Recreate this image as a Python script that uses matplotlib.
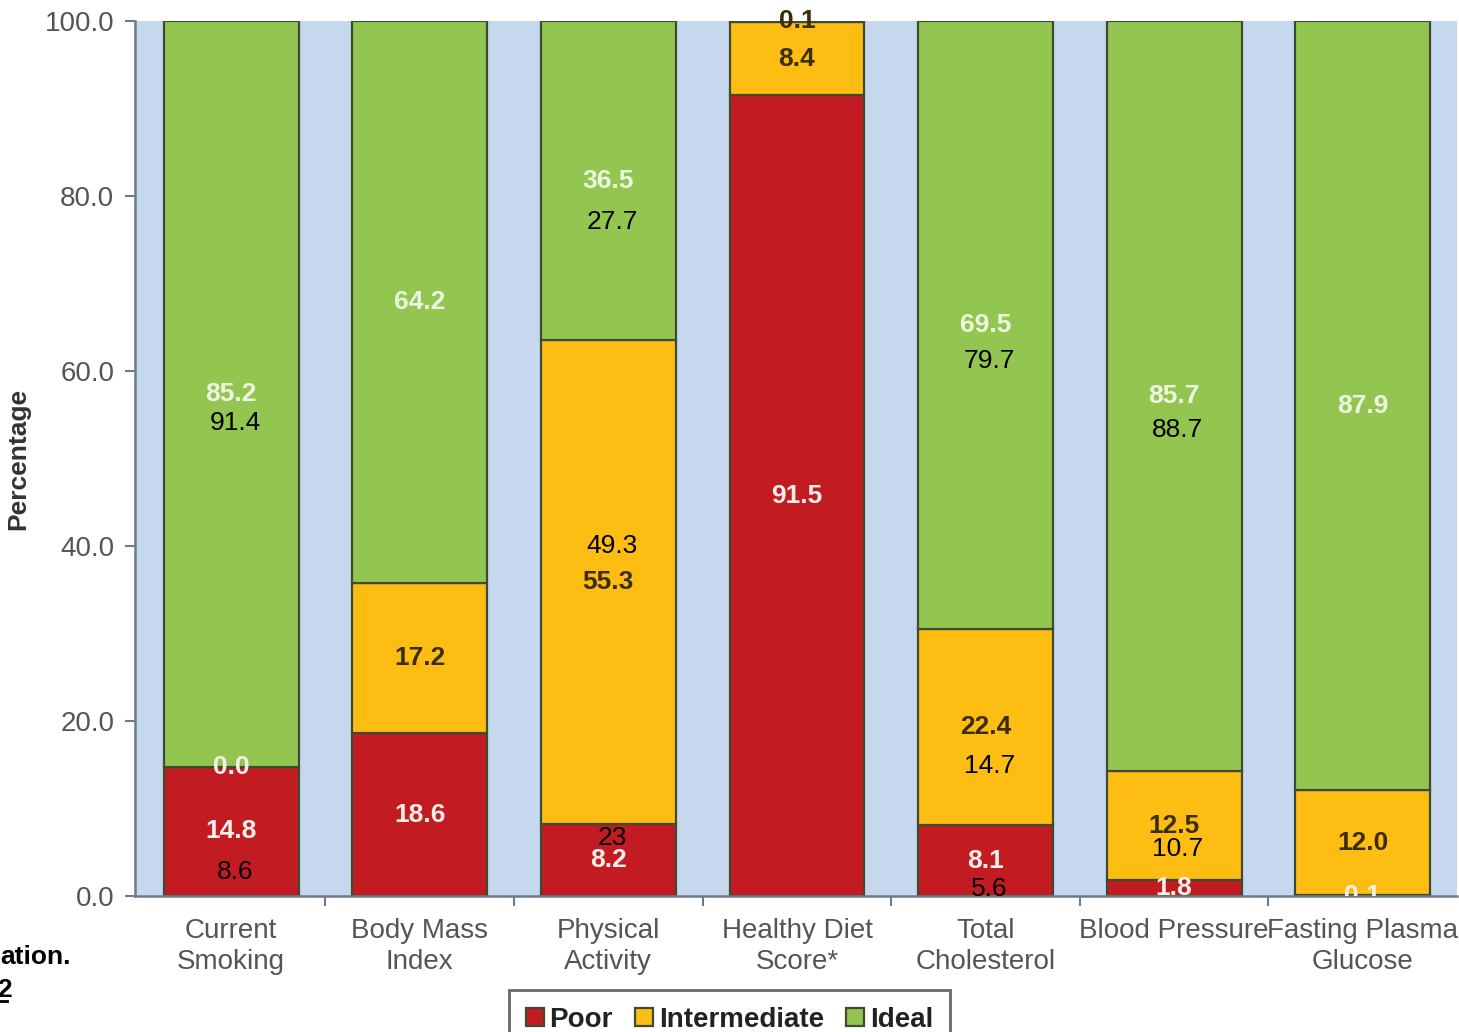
import matplotlib
matplotlib.use("Agg")
import matplotlib.pyplot as plt
from matplotlib.lines import Line2D
from matplotlib.transforms import Bbox, TransformedBbox
import numpy as np

plt.rcParams['font.family'] = ['Liberation Sans', 'DejaVu Sans']

# Categories and stacked percentages
categories = ["Current\nSmoking", "Body Mass\nIndex", "Physical\nActivity",
              "Healthy Diet\nScore*", "Total\nCholesterol", "Blood Pressure",
              "Fasting Plasma\nGlucose"]
poor = [14.8, 18.6, 8.2, 91.5, 8.1, 1.8, 0.1]
intermediate = [0.0, 17.2, 55.3, 8.4, 22.4, 12.5, 12.0]
ideal = [85.2, 64.2, 36.5, 0.1, 69.5, 85.7, 87.9]
series_names = ["Poor", "Intermediate", "Ideal"]

# Additional figures written over the bars (category index, value text, height)
note_index = [0, 0, 2, 2, 2, 4, 4, 4, 5, 5]
note_text = ["91.4", "8.6", "27.7", "49.3", "23", "79.7", "14.7", "5.6", "88.7", "10.7"]
note_y = [54.1, 2.7, 77.0, 40.0, 6.6, 61.1, 14.9, 0.8, 53.3, 5.4]

yticks = [0, 20, 40, 60, 80, 100]

fill_colors = ["#c21b22", "#fdbd12", "#93c651"]
label_colors = ["#f6efe9", "#3a2d08", "#eef6e2"]
edge_color = "#3f4a30"
bg_color = "#c6d8ee"
text_grey = "#555555"

fig = plt.figure(figsize=(14.59, 10.32), dpi=100)
ax = fig.add_axes([135 / 1459, 1 - 896 / 1032, 1322 / 1459, 875 / 1032])
ax.set_facecolor(bg_color)

x = np.arange(len(categories))
width = 0.715
stack = [poor, intermediate, ideal]
bottom = np.zeros(len(categories))
clip = TransformedBbox(Bbox([[-0.6, 0.0], [6.6, 110.0]]), ax.transData)
for s, (vals, name) in enumerate(zip(stack, series_names)):
    vals = np.array(vals)
    ax.bar(x, vals, width, bottom=bottom, color=fill_colors[s],
           edgecolor=edge_color, linewidth=1.6, label=name, zorder=2)
    for i, v in enumerate(vals):
        col = label_colors[s]
        if v < 1 and s > 0:
            col = label_colors[s - 1]
        t = ax.text(x[i], bottom[i] + v / 2, f"{v:.1f}", ha="center", va="center",
                    fontsize=19, fontweight="bold", color=col, zorder=4)
        t.set_clip_box(clip)
        t.set_clip_on(True)
    bottom = bottom + vals

for i, txt, yv in zip(note_index, note_text, note_y):
    ax.text(x[i] + 0.02, yv, txt, ha="center", va="center", fontsize=19,
            color="black", zorder=5)

ax.set_xlim(-0.51, 6.5)
ax.set_ylim(0, 100)
ax.set_yticks(yticks)
ax.set_yticklabels([f"{v:.1f}" for v in yticks])
ax.set_xticks(x)
ax.set_xticklabels(categories, linespacing=1.25)
ax.set_xticks(np.arange(0.5, 6.5, 1.0), minor=True)
ax.tick_params(axis="x", which="major", length=0, pad=16, labelsize=20,
               labelcolor=text_grey)
ax.tick_params(axis="x", which="minor", length=7, width=1.5, color="#6d7a8c")
ax.tick_params(axis="y", length=7, width=1.5, color="#6d7a8c", labelsize=20,
               labelcolor=text_grey, pad=8)
for side in ("top", "right"):
    ax.spines[side].set_visible(False)
for side in ("left", "bottom"):
    ax.spines[side].set_color("#6d7a8c")
    ax.spines[side].set_linewidth(1.8)
ax.set_ylabel("Percentage", fontsize=19, fontweight="bold", color="#333333",
              labelpad=10)

handles, labels = ax.get_legend_handles_labels()
leg = fig.legend(handles, labels, loc="upper center", bbox_to_anchor=(0.5, 1 - 990 / 1032),
                 ncol=3, frameon=True, fancybox=False, borderaxespad=0.0,
                 handlelength=0.65, handleheight=0.65, handletextpad=0.2,
                 columnspacing=0.8, borderpad=0.6, edgecolor="#444444",
                 prop={"weight": "bold", "size": 20})
leg.get_frame().set_linewidth(2.0)
for txt in leg.get_texts():
    txt.set_color("#222222")

# Fragments of the surrounding page text
fig.text(0.0, 1 - 957 / 1032, "ation.", fontsize=19, fontweight="bold",
         color="black", ha="left", va="center")
fig.text(-0.002, 1 - 990 / 1032, "2", fontsize=19, fontweight="bold",
         color="black", ha="left", va="center")
fig.add_artist(Line2D([0, 7 / 1459], [1 - 1001 / 1032] * 2, color="black",
                      linewidth=2.0, transform=fig.transFigure))

fig.savefig("out.png", dpi=100)
